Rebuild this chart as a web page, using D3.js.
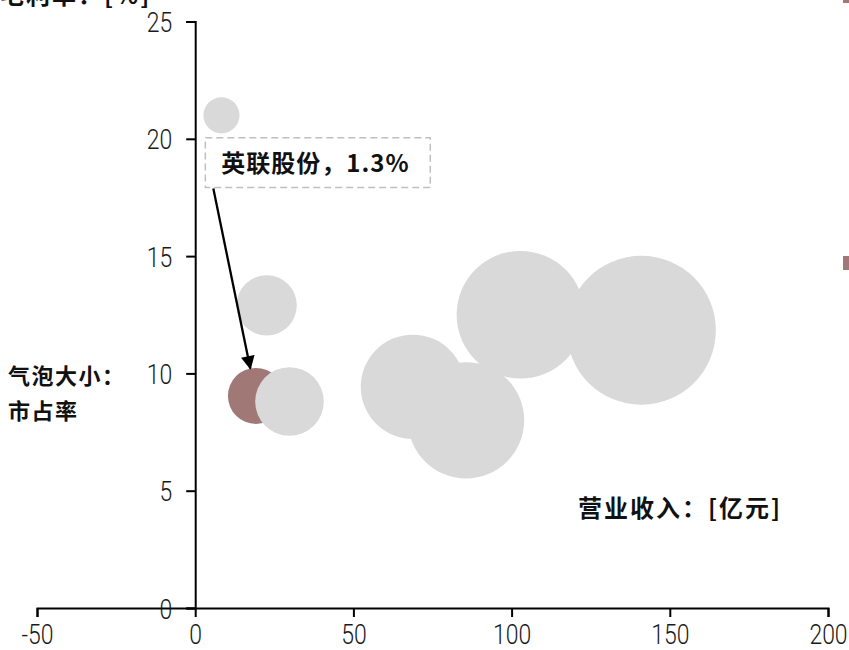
<!DOCTYPE html>
<html>
<head>
<meta charset="utf-8">
<script src="https://cdn.jsdelivr.net/npm/d3@7"></script>
<style>
  html, body { margin: 0; padding: 0; background: #fff; }
  svg { display: block; }
  .tick text { font-family: Roboto, "Liberation Sans", sans-serif; font-weight: 300; font-size: 28px; fill: #1a1a1a; }
  .cn { font-family: "Noto Sans CJK SC", sans-serif; font-weight: bold; fill: #111; }
</style>
</head>
<body>
<svg id="chart" width="849" height="650"></svg>
<script>
// Companies: revenue (亿元), margin (%), market share (%)
const companies = ["A", "B", "英联股份", "C", "D", "E", "F", "G"];
const revenue = [8.3, 22.6, 19.2, 29.8, 68.8, 85.6, 102.8, 141.0];
const margin  = [21.0, 12.9, 9.04, 8.8, 9.43, 8.0, 12.5, 11.84];
const share   = [0.54, 1.5, 1.3, 1.95, 4.5, 5.6, 6.75, 9.2];
const highlight = "英联股份";

const xTicks = [-50, 0, 50, 100, 150, 200];
const yTicks = [0, 5, 10, 15, 20, 25];

const svg = d3.select("#chart");

const x = d3.scaleLinear().domain([-50, 200]).range([37, 828]);
const y = d3.scaleLinear().domain([0, 25]).range([608, 21.5]);
const r = d3.scaleSqrt().domain([0, 10]).range([0, 77.7]);

const GRAY = "#d9d9d9", BROWN = "#a07977";
const NARROW = 0.82; // horizontal squeeze for the tick numerals

// bubbles, drawn in data order
const data = companies.map((c, i) => ({ name: c, rev: revenue[i], mg: margin[i], sh: share[i] }));
svg.append("g").selectAll("circle").data(data).join("circle")
  .attr("cx", d => x(d.rev))
  .attr("cy", d => y(d.mg))
  .attr("r", d => r(d.sh))
  .attr("fill", d => d.name === highlight ? BROWN : GRAY);

// x axis along y = 0
const xAxis = svg.append("g")
  .attr("transform", `translate(0,${y(0)})`)
  .call(d3.axisBottom(x).tickValues(xTicks).tickSize(9).tickPadding(7).tickFormat(d => String(d)));
// y axis along x = 0
const yAxis = svg.append("g")
  .attr("transform", `translate(${x(0)},0)`)
  .call(d3.axisLeft(y).tickValues(yTicks).tickSize(9).tickPadding(14).tickFormat(d => String(d)));

[xAxis, yAxis].forEach(g => {
  g.select(".domain").attr("stroke", "#000").attr("stroke-width", 2);
  g.selectAll(".tick line").attr("stroke", "#000").attr("stroke-width", 2);
});
xAxis.selectAll(".tick text").attr("transform", `scale(${NARROW},1)`);
yAxis.selectAll(".tick text")
  .attr("dy", "0.36em")
  .attr("x", -23 / NARROW)
  .attr("transform", `scale(${NARROW},1)`);

// callout for the highlighted company
const hi = data.find(d => d.name === highlight);
const box = { x0: x(3.2), y0: y(20.05), x1: x(74.3), y1: y(17.92) };
svg.append("rect")
  .attr("x", box.x0).attr("y", box.y0)
  .attr("width", box.x1 - box.x0).attr("height", box.y1 - box.y0)
  .attr("fill", "#fff").attr("stroke", "#bfbfbf").attr("stroke-width", 1.5)
  .attr("stroke-dasharray", "7,4");
svg.append("text").attr("class", "cn")
  .attr("x", box.x0 + 16).attr("y", (box.y0 + box.y1) / 2 + 9)
  .attr("font-size", 24).attr("letter-spacing", 1)
  .text(`${hi.name}，${hi.sh}%`);

const defs = svg.append("defs");
defs.append("marker").attr("id", "arrow")
  .attr("viewBox", "0 0 10 10").attr("refX", 9).attr("refY", 5)
  .attr("markerWidth", 6.5).attr("markerHeight", 6).attr("orient", "auto")
  .attr("markerUnits", "strokeWidth")
  .append("path").attr("d", "M0,0 L10,5 L0,10 Z").attr("fill", "#000");

const sx = box.x0 + 8, sy = box.y1 + 1;
const cx = x(hi.rev), cy = y(hi.mg), rr = r(hi.sh);
const ang = Math.atan2(sy - cy, sx - cx);
svg.append("line")
  .attr("x1", sx).attr("y1", sy)
  .attr("x2", cx + rr * Math.cos(ang)).attr("y2", cy + rr * Math.sin(ang))
  .attr("stroke", "#000").attr("stroke-width", 2.3)
  .attr("marker-end", "url(#arrow)");

// axis titles and notes
svg.append("text").attr("class", "cn")
  .attr("x", 0).attr("y", 4).attr("font-size", 24).attr("letter-spacing", 2)
  .text("毛利率：[%]");
svg.append("text").attr("class", "cn")
  .attr("x", 8).attr("y", 384).attr("font-size", 22).attr("letter-spacing", 1.5)
  .text("气泡大小：");
svg.append("text").attr("class", "cn")
  .attr("x", 8).attr("y", 419).attr("font-size", 22).attr("letter-spacing", 1.5)
  .text("市占率");
svg.append("text").attr("class", "cn")
  .attr("x", 578).attr("y", 517).attr("font-size", 24).attr("letter-spacing", 2)
  .text("营业收入：[亿元]");

// legend swatches at the right edge
svg.append("rect").attr("x", 843).attr("y", 0).attr("width", 6).attr("height", 3).attr("fill", BROWN);
svg.append("rect").attr("x", 843).attr("y", 256).attr("width", 6).attr("height", 14).attr("fill", BROWN);
</script>
</body>
</html>
